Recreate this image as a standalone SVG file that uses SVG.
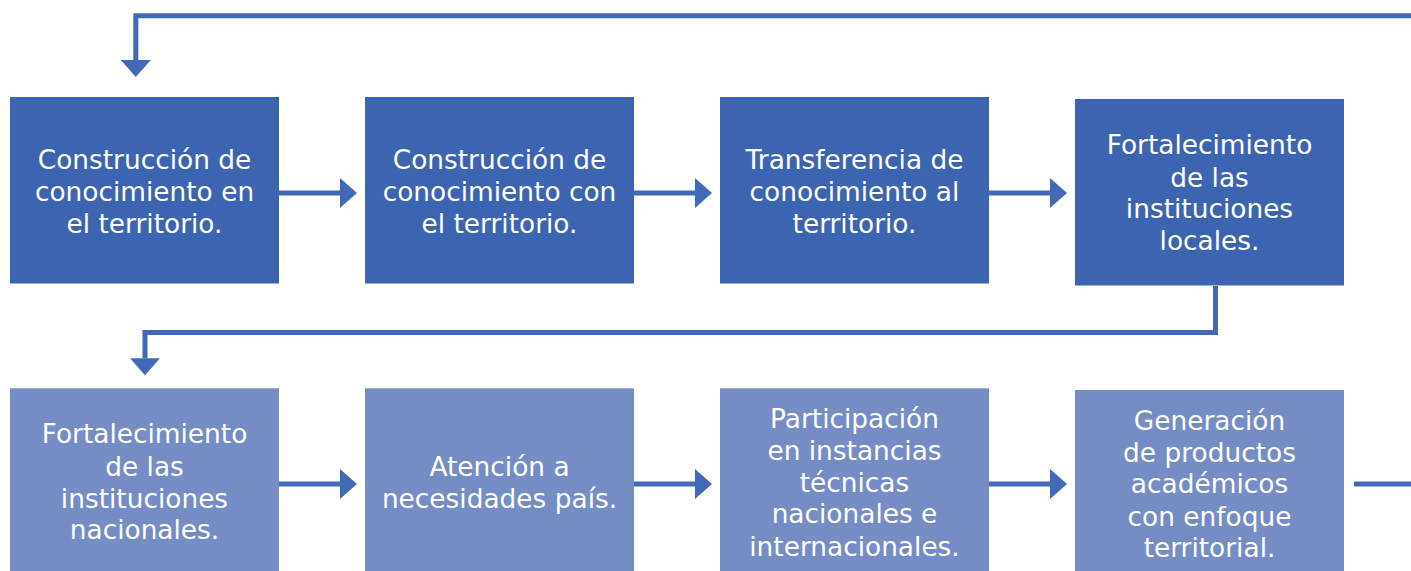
<svg xmlns="http://www.w3.org/2000/svg" width="1411" height="571" viewBox="0 0 1411 571">
<style>
.top{fill:#3D64B1}
.bot{fill:#768CC5}
.lbl{font-family:"DejaVu Sans",Verdana,sans-serif;font-size:26.4px;fill:#FFFFFF;text-anchor:middle}
.con{fill:none;stroke:#4169B5;stroke-width:5}
</style>
<defs>
<marker id="ah" markerUnits="userSpaceOnUse" markerWidth="17" markerHeight="30" viewBox="0 0 17 30" refX="0" refY="15" orient="auto">
<path d="M0,0 L17,15 L0,30 Z" fill="#4169B5"/>
</marker>
</defs>
<g id="connectors">
<path class="con" d="M1411,15.8 H135.8 V60" marker-end="url(#ah)"/>
<path class="con" d="M279,193 H340" marker-end="url(#ah)"/>
<path class="con" d="M634,193 H695" marker-end="url(#ah)"/>
<path class="con" d="M989,193 H1050" marker-end="url(#ah)"/>
<path class="con" d="M1215.5,286 V332.5 H145 V358.3" marker-end="url(#ah)"/>
<path class="con" d="M279,484 H340" marker-end="url(#ah)"/>
<path class="con" d="M634,484 H695" marker-end="url(#ah)"/>
<path class="con" d="M989,484 H1050" marker-end="url(#ah)"/>
<path class="con" d="M1354,484 H1411"/>
</g>
<g id="n1">
<rect class="top" x="10" y="97" width="269" height="186.5"/>
<text class="lbl"><tspan x="144.5" y="169.3">Construcción de</tspan><tspan x="144.5" y="201">conocimiento en</tspan><tspan x="144.5" y="232.7">el territorio.</tspan></text>
</g>
<g id="n2">
<rect class="top" x="365" y="97" width="269" height="186.5"/>
<text class="lbl"><tspan x="499.5" y="169.3">Construcción de</tspan><tspan x="499.5" y="201">conocimiento con</tspan><tspan x="499.5" y="232.7">el territorio.</tspan></text>
</g>
<g id="n3">
<rect class="top" x="720" y="97" width="269" height="186.5"/>
<text class="lbl"><tspan x="854.5" y="169.3">Transferencia de</tspan><tspan x="854.5" y="201">conocimiento al</tspan><tspan x="854.5" y="232.7">territorio.</tspan></text>
</g>
<g id="n4">
<rect class="top" x="1075" y="99" width="269" height="186.5"/>
<text class="lbl"><tspan x="1209.5" y="154.3">Fortalecimiento</tspan><tspan x="1209.5" y="186.5">de las</tspan><tspan x="1209.5" y="218.3">instituciones</tspan><tspan x="1209.5" y="250">locales.</tspan></text>
</g>
<g id="n5">
<rect class="bot" x="10" y="388.3" width="269" height="186"/>
<text class="lbl"><tspan x="144.5" y="443.3">Fortalecimiento</tspan><tspan x="144.5" y="475.5">de las</tspan><tspan x="144.5" y="507.5">instituciones</tspan><tspan x="144.5" y="539.3">nacionales.</tspan></text>
</g>
<g id="n6">
<rect class="bot" x="365" y="388.3" width="269" height="186"/>
<text class="lbl"><tspan x="499.5" y="476">Atención a</tspan><tspan x="499.5" y="507.7">necesidades país.</tspan></text>
</g>
<g id="n7">
<rect class="bot" x="720" y="388.3" width="269" height="186"/>
<text class="lbl"><tspan x="854.5" y="428.3">Participación</tspan><tspan x="854.5" y="460">en instancias</tspan><tspan x="854.5" y="491.7">técnicas</tspan><tspan x="854.5" y="523.3">nacionales e</tspan><tspan x="854.5" y="555.7">internacionales.</tspan></text>
</g>
<g id="n8">
<rect class="bot" x="1075" y="390" width="269" height="186"/>
<text class="lbl"><tspan x="1209.5" y="430">Generación</tspan><tspan x="1209.5" y="461.7">de productos</tspan><tspan x="1209.5" y="493.3">académicos</tspan><tspan x="1209.5" y="525.7">con enfoque</tspan><tspan x="1209.5" y="557.3">territorial.</tspan></text>
</g>
</svg>
